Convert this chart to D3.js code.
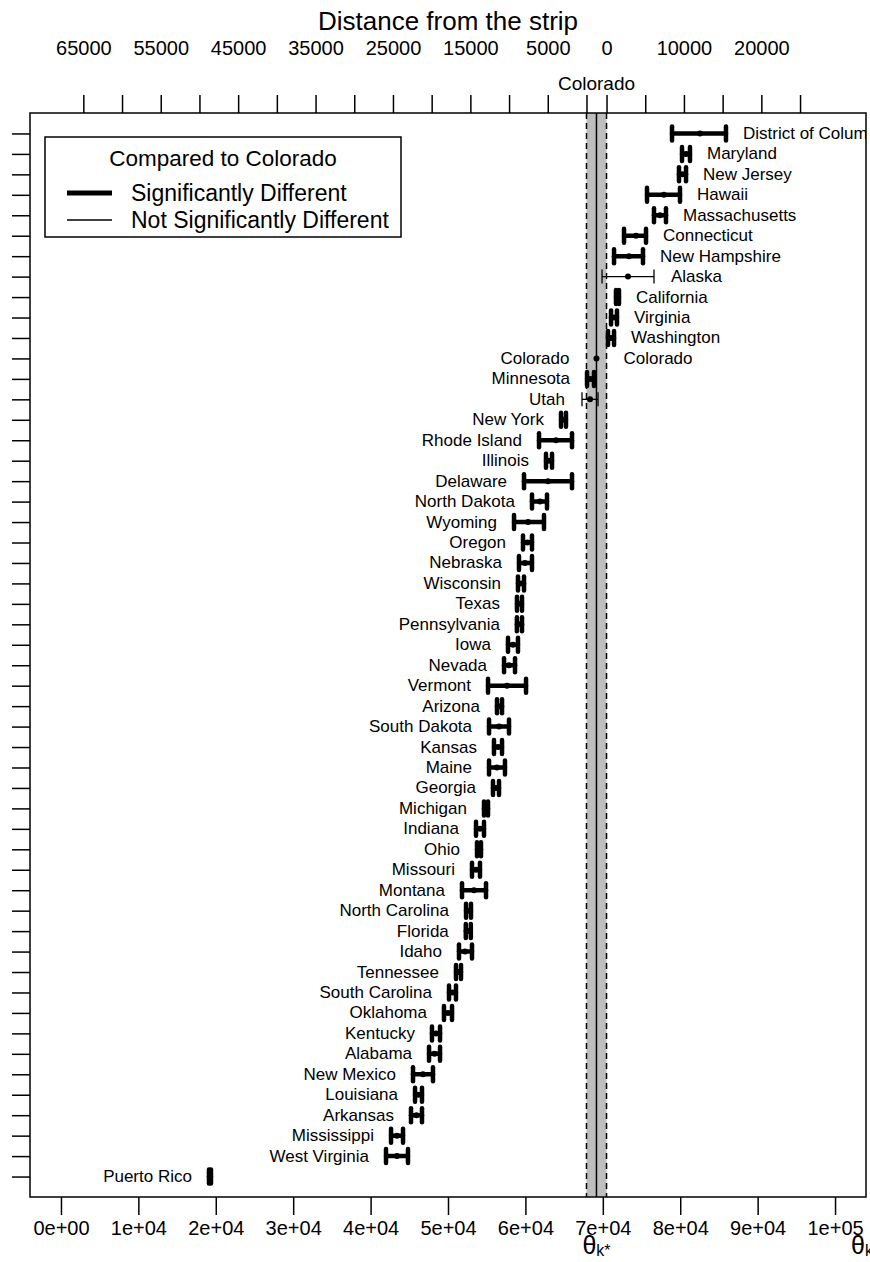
<!DOCTYPE html>
<html>
<head>
<meta charset="utf-8">
<script src="https://cdn.jsdelivr.net/npm/d3@7"></script>
<style>
  body { margin: 0; background: #fff; }
  svg text { font-family: "Liberation Sans", Arial, sans-serif; fill: #000; }
</style>
</head>
<body>
<div id="chart"></div>
<script>
const width = 870, height = 1262;
const box = {left: 30, right: 866, top: 113, bottom: 1197};

// states, top to bottom
const states = ["District of Columbia", "Maryland", "New Jersey", "Hawaii", "Massachusetts", "Connecticut",
  "New Hampshire", "Alaska", "California", "Virginia", "Washington", "Colorado", "Minnesota", "Utah",
  "New York", "Rhode Island", "Illinois", "Delaware", "North Dakota", "Wyoming", "Oregon", "Nebraska",
  "Wisconsin", "Texas", "Pennsylvania", "Iowa", "Nevada", "Vermont", "Arizona", "South Dakota", "Kansas",
  "Maine", "Georgia", "Michigan", "Indiana", "Ohio", "Missouri", "Montana", "North Carolina", "Florida",
  "Idaho", "Tennessee", "South Carolina", "Oklahoma", "Kentucky", "Alabama", "New Mexico", "Louisiana",
  "Arkansas", "Mississippi", "West Virginia", "Puerto Rico"];
const means = [82560, 80750, 80300, 77900, 77390, 74290, 73380, 73250, 71900, 71450, 71060, 69180, 68410, 68350,
  64920, 63950, 63050, 62920, 61890, 60340, 60270, 59950, 59430, 59240, 59230, 58400, 57880, 57620, 56650, 56590,
  56460, 56330, 56200, 54910, 54130, 54000, 53620, 53360, 52650, 52620, 52200, 51360, 50580, 50000, 48450, 48260,
  46770, 46190, 45930, 43410, 43410, 19250];
const lower = [78940, 80230, 79840, 75710, 76610, 72740, 71450, 69900, 71700, 71060, 70670, 67890, 67960, 67310,
  64600, 61760, 62660, 59820, 60850, 58530, 59690, 59170, 59040, 58910, 58900, 57750, 57240, 55170, 56330, 55300,
  55940, 55300, 55810, 54650, 53620, 53750, 53100, 51810, 52330, 52300, 51420, 51030, 50130, 49480, 47930, 47550,
  45480, 45740, 45220, 42640, 41990, 19120];
const upper = [85910, 81260, 80750, 79970, 78160, 75580, 75190, 76610, 72090, 71830, 71450, 70480, 68860, 69380,
  65240, 66020, 63440, 66020, 62790, 62400, 60850, 60850, 59820, 59560, 59560, 59040, 58660, 60080, 56980, 57880,
  56980, 57360, 56590, 55170, 54650, 54260, 54130, 54910, 52970, 52950, 53100, 51680, 51030, 50520, 48970, 48970,
  48060, 46640, 46640, 44190, 44830, 19380];
// 1 = significantly different from Colorado
const significant = [1, 1, 1, 1, 1, 1, 1, 0, 1, 1, 1, 0, 1, 0, 1, 1, 1, 1, 1, 1, 1, 1, 1, 1, 1, 1, 1, 1, 1, 1, 1,
  1, 1, 1, 1, 1, 1, 1, 1, 1, 1, 1, 1, 1, 1, 1, 1, 1, 1, 1, 1, 1];
const refState = "Colorado";

const bottomTicks = [0, 10000, 20000, 30000, 40000, 50000, 60000, 70000, 80000, 90000, 100000];
const bottomLabels = ["0e+00", "1e+04", "2e+04", "3e+04", "4e+04", "5e+04", "6e+04", "7e+04", "8e+04", "9e+04", "1e+05"];
const leftDistances = [0, 5000, 10000, 15000, 20000, 25000, 30000, 35000, 40000, 45000, 50000, 55000, 60000, 65000];
const leftLabels = ["", "5000", "", "15000", "", "25000", "", "35000", "", "45000", "", "55000", "", "65000"];
const rightDistances = [0, 5000, 10000, 15000, 20000, 25000];
const rightLabels = ["0", "", "10000", "", "20000", ""];

const ref = states.indexOf(refState);
const stripLo = lower[ref], stripHi = upper[ref], stripMid = means[ref];

const svg = d3.select("#chart").append("svg")
  .attr("width", width).attr("height", height);

const x = d3.scaleLinear().domain([-4000, 104000]).range([box.left, box.right]);
const y = d3.scaleLinear().domain([0, states.length + 1]).range([box.bottom, box.top]);
const rowY = i => y(states.length - i);

svg.append("defs").append("clipPath").attr("id", "plotclip")
  .append("rect").attr("x", box.left).attr("y", box.top)
  .attr("width", box.right - box.left).attr("height", box.bottom - box.top);

// strip around the reference state
svg.append("rect")
  .attr("x", x(stripLo)).attr("y", box.top)
  .attr("width", x(stripHi) - x(stripLo)).attr("height", box.bottom - box.top)
  .attr("fill", "#bebebe");
[stripLo, stripHi].forEach(v => {
  svg.append("line")
    .attr("x1", x(v)).attr("x2", x(v)).attr("y1", box.top).attr("y2", box.bottom)
    .attr("stroke", "#000").attr("stroke-width", 1.5).attr("stroke-dasharray", "6,4");
});
svg.append("line")
  .attr("x1", x(stripMid)).attr("x2", x(stripMid)).attr("y1", box.top).attr("y2", box.bottom)
  .attr("stroke", "#000").attr("stroke-width", 1.5);

// plot box
svg.append("rect")
  .attr("x", box.left).attr("y", box.top)
  .attr("width", box.right - box.left).attr("height", box.bottom - box.top)
  .attr("fill", "none").attr("stroke", "#000").attr("stroke-width", 1.5);

// axes
const styleAxis = (g, size) => {
  g.select(".domain").remove();
  g.selectAll(".tick line").attr("stroke", "#000").attr("stroke-width", 1.5);
  g.selectAll(".tick text").style("font-size", size + "px")
    .style("font-family", '"Liberation Sans", Arial, sans-serif');
};

svg.append("g")
  .attr("transform", `translate(0,${box.bottom})`)
  .call(d3.axisBottom(x).tickValues(bottomTicks).tickSize(18).tickPadding(6)
    .tickFormat((d, i) => bottomLabels[i]))
  .call(g => styleAxis(g, 20));

svg.append("g")
  .attr("transform", `translate(0,${box.top})`)
  .call(d3.axisTop(x).tickValues(leftDistances.map(d => stripLo - d)).tickSize(18).tickPadding(40)
    .tickFormat((d, i) => leftLabels[i]))
  .call(g => styleAxis(g, 20));

svg.append("g")
  .attr("transform", `translate(0,${box.top})`)
  .call(d3.axisTop(x).tickValues(rightDistances.map(d => stripHi + d)).tickSize(18).tickPadding(40)
    .tickFormat((d, i) => rightLabels[i]))
  .call(g => styleAxis(g, 20));

svg.append("text")
  .attr("x", x(stripMid)).attr("y", 90)
  .attr("text-anchor", "middle").style("font-size", "19px")
  .text(refState);

svg.append("g")
  .attr("transform", `translate(${box.left},0)`)
  .call(d3.axisLeft(y).tickValues(d3.range(1, states.length + 1)).tickSize(18).tickFormat(""))
  .call(g => styleAxis(g, 10));

// title
svg.append("text")
  .attr("x", (box.left + box.right) / 2).attr("y", 30)
  .attr("text-anchor", "middle").style("font-size", "26px")
  .text("Distance from the strip");

// theta labels
const theta = (xpos, sub) => {
  const t = svg.append("text").attr("x", xpos).attr("y", 1254)
    .attr("text-anchor", "middle").style("font-size", "25px");
  t.append("tspan").text("\u03b8");
  t.append("tspan").attr("dy", 2).style("font-size", "16px").text(sub);
};
theta(x(stripMid), "k*");
theta(862, "k");

// intervals
const rows = states.map((s, i) => ({name: s, mean: means[i], lo: lower[i], hi: upper[i], sig: significant[i], i}));
const marks = svg.append("g");
rows.filter(d => d.name !== refState).forEach(d => {
  const g = marks.append("g")
    .attr("stroke", "#000")
    .attr("stroke-width", d.sig ? 4.5 : 1.3)
    .attr("stroke-linecap", d.sig ? "round" : "butt");
  const yy = rowY(d.i);
  const cap = 7;
  g.append("line").attr("x1", x(d.lo)).attr("x2", x(d.hi)).attr("y1", yy).attr("y2", yy);
  [d.lo, d.hi].forEach(v => {
    g.append("line").attr("x1", x(v)).attr("x2", x(v)).attr("y1", yy - cap).attr("y2", yy + cap);
  });
});
marks.selectAll("circle").data(rows).join("circle")
  .attr("cx", d => x(d.mean)).attr("cy", d => rowY(d.i)).attr("r", 3).attr("fill", "#000");

// state labels
const labels = svg.append("g").attr("clip-path", "url(#plotclip)").style("font-size", "17px");
rows.forEach(d => {
  const above = d.mean >= stripMid;
  if (above || d.name === refState) {
    labels.append("text").attr("x", x(d.hi) + 17).attr("y", rowY(d.i))
      .attr("dominant-baseline", "central").text(d.name);
  }
  if (!above || d.name === refState) {
    labels.append("text").attr("x", x(d.lo) - 17).attr("y", rowY(d.i))
      .attr("text-anchor", "end").attr("dominant-baseline", "central").text(d.name);
  }
});

// legend
const legend = svg.append("g");
legend.append("rect").attr("x", 45).attr("y", 137).attr("width", 356).attr("height", 100)
  .attr("fill", "#fff").attr("stroke", "#000").attr("stroke-width", 1.5);
legend.append("text").attr("x", 223).attr("y", 166).attr("text-anchor", "middle")
  .style("font-size", "22.5px").text("Compared to " + refState);
const legendItems = [
  {label: "Significantly Different", w: 5, y: 193},
  {label: "Not Significantly Different", w: 1.3, y: 220}
];
legendItems.forEach(d => {
  legend.append("line").attr("x1", 67).attr("x2", 112).attr("y1", d.y).attr("y2", d.y)
    .attr("stroke", "#000").attr("stroke-width", d.w);
  legend.append("text").attr("x", 131).attr("y", d.y).attr("dominant-baseline", "central")
    .style("font-size", "23px").text(d.label);
});
</script>
</body>
</html>
